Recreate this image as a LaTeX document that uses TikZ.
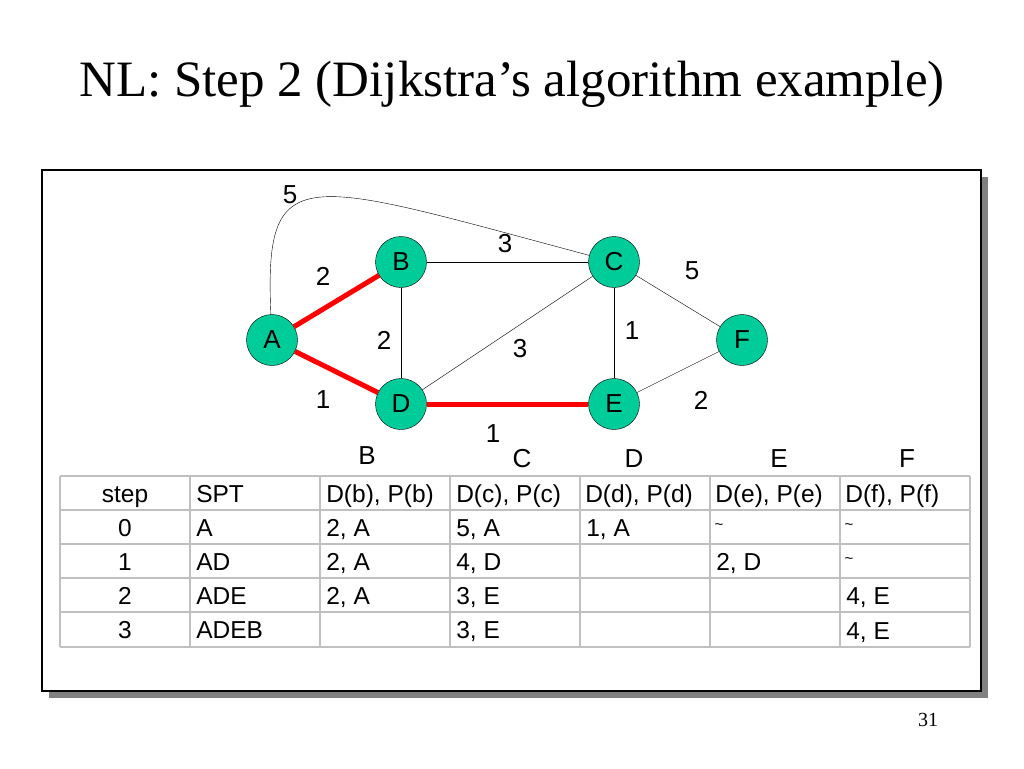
\documentclass[tikz,border=0pt]{standalone}
\usepackage{fontspec}
\setmainfont{Liberation Serif}
\setsansfont{Liberation Sans}
\usetikzlibrary{calc}
\definecolor{nodegreen}{RGB}{0,204,153}
\definecolor{gridgray}{RGB}{192,192,192}
\definecolor{shadowgray}{RGB}{128,128,128}

\begin{document}
\begin{tikzpicture}[x=1pt,y=-1pt,semithick,
    vertex/.style={circle,draw=black,thin,fill=nodegreen,minimum size=51pt,inner sep=0pt,font=\sffamily\fontsize{26}{28}\selectfont},
    wlabel/.style={font=\sffamily\fontsize{26}{28}\selectfont},
    tree/.style={red,line width=5pt},
    cell/.style={font=\sffamily\fontsize{24.5}{28}\selectfont,anchor=base west,inner sep=0pt},
    tilde/.style={font=\sffamily\fontsize{15}{16}\selectfont,inner sep=0pt}]
      \useasboundingbox (0,0) rectangle (1024,768);
      % title and page number
      \node[font=\fontsize{51}{60}\selectfont] (title) at (512,84) {NL: Step 2 (Dijkstra’s algorithm example)};
      \node[font=\fontsize{20}{24}\selectfont] (page) at (928,720) {31};
      % framed panel with shadow
      \fill[shadowgray] (49,177) rectangle (988,698);
      \draw[fill=white,line width=1.5pt] (42,170) rectangle (981,691);

      \node[vertex] (A) at (272,340) {A};
      \node[vertex] (B) at (401,262) {B};
      \node[vertex] (C) at (614,262) {C};
      \node[vertex] (D) at (401,404) {D};
      \node[vertex] (E) at (614,404) {E};
      \node[vertex] (F) at (742,340) {F};

      \path[thin] (B) edge (C)
             (B) edge (D)
             (D) edge (C)
             (C) edge (E)
             (C) edge (F)
             (E) edge (F);
      \draw[thin] (A) .. controls (264,158) and (300,178) .. (C);
      \draw[tree] (A) -- (B);
      \draw[tree] (A) -- (D);
      \draw[tree] (D) -- (E);

      % weights
      \node[wlabel] (wac) at (290,195) {5};
      \node[wlabel] (wab) at (323,276) {2};
      \node[wlabel] (wbc) at (505,244) {3};
      \node[wlabel] (wcf) at (692,271) {5};
      \node[wlabel] (wbd) at (384,340) {2};
      \node[wlabel] (wdc) at (520,349) {3};
      \node[wlabel] (wce) at (632,331) {1};
      \node[wlabel] (wad) at (323,400) {1};
      \node[wlabel] (wef) at (701,400) {2};
      \node[wlabel] (wde) at (493,434) {1};

      % column letters
      \node[wlabel] (hb) at (367,456) {B};
      \node[wlabel] (hc) at (522,459) {C};
      \node[wlabel] (hd) at (634,459) {D};
      \node[wlabel] (he) at (779,459) {E};
      \node[wlabel] (hf) at (907,459) {F};

      % table
      \foreach \y in {476,510,544,578,612,647}
        \draw[gridgray,line width=2pt] (60,\y) -- (970,\y);
      \foreach \x in {60,190,320,450,580,710,840,970}
        \draw[gridgray,line width=2pt] (\x,476) -- (\x,647);

      \foreach \t [count=\i] in {step,0,1,2,3}
        \node[cell,anchor=base] (s\i) at (125,{468+34*\i}) {\t};
      \foreach \t [count=\i] in {SPT,A,AD,ADE,ADEB}
        \node[cell] (t\i) at (196,{468+34*\i}) {\t};
      \foreach \t [count=\i] in {{D(b), P(b)},{2, A},{2, A},{2, A}}
        \node[cell] (b\i) at (326,{468+34*\i}) {\t};
      \foreach \t [count=\i] in {{D(c), P(c)},{5, A},{4, D},{3, E},{3, E}}
        \node[cell] (c\i) at (456,{468+34*\i}) {\t};
      \node[cell] (d1) at (585,502) {D(d), P(d)};
      \node[cell] (d2) at (586,536) {1, A};
      \node[cell] (e1) at (715,502) {D(e), P(e)};
      \node[tilde] (e2) at (719,527) {\textasciitilde};
      \node[cell] (e3) at (716,570) {2, D};
      \node[cell] (f1) at (845,502) {D(f), P(f)};
      \node[tilde] (f2) at (849,527) {\textasciitilde};
      \node[tilde] (f3) at (849,561) {\textasciitilde};
      \node[cell] (f4) at (846,604) {4, E};
      \node[cell] (f5) at (846,639) {4, E};
    \end{tikzpicture}
\end{document}
